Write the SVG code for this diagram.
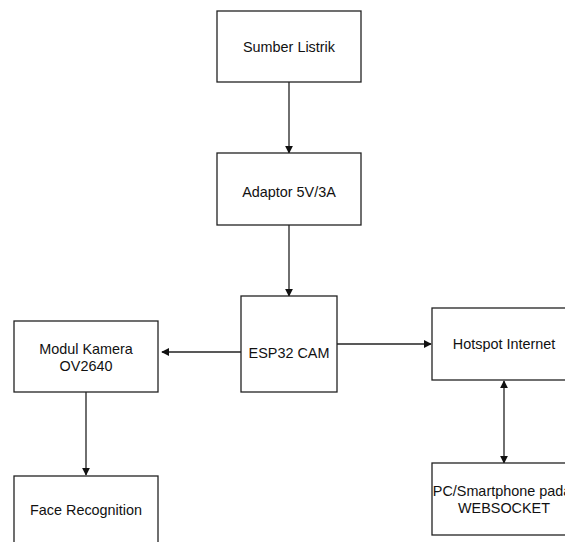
<svg xmlns="http://www.w3.org/2000/svg" width="565" height="542" viewBox="0 0 565 542">
<style>
.box{fill:#fff;stroke:#222;stroke-width:1.3}
.t{font-family:"Liberation Sans",Arial,sans-serif;font-size:14.4px;fill:#111;text-anchor:middle}
.c{fill:none;stroke:#222;stroke-width:1.3}
</style>
<defs>
<marker id="ah" viewBox="0 0 10 10" refX="9" refY="5" markerWidth="8" markerHeight="8" markerUnits="userSpaceOnUse" orient="auto-start-reverse">
<path d="M0,0 L10,5 L0,10 z" fill="#111"/>
</marker>
</defs>
<rect width="565" height="542" fill="#fff"/>
<g id="connectors">
<line class="c" x1="289" y1="82" x2="289" y2="153" marker-end="url(#ah)"/>
<line class="c" x1="289" y1="225" x2="289" y2="296" marker-end="url(#ah)"/>
<line class="c" x1="241" y1="352" x2="162" y2="352" marker-end="url(#ah)"/>
<line class="c" x1="337" y1="344" x2="431" y2="344" marker-end="url(#ah)"/>
<line class="c" x1="86" y1="392" x2="86" y2="475" marker-end="url(#ah)"/>
<line class="c" x1="504" y1="381" x2="504" y2="463" marker-start="url(#ah)" marker-end="url(#ah)"/>
</g>
<g id="sumber">
<rect class="box" x="217" y="11" width="144" height="71"/>
<text class="t" x="289" y="52">Sumber Listrik</text>
</g>
<g id="adaptor">
<rect class="box" x="217" y="153" width="144" height="72"/>
<text class="t" x="289" y="197">Adaptor 5V/3A</text>
</g>
<g id="esp32">
<rect class="box" x="241" y="296" width="96" height="96"/>
<text class="t" x="289" y="358">ESP32 CAM</text>
</g>
<g id="modul">
<rect class="box" x="14" y="321" width="144" height="71"/>
<text class="t" x="86" y="354">Modul Kamera</text>
<text class="t" x="86" y="371">OV2640</text>
</g>
<g id="hotspot">
<rect class="box" x="432" y="308" width="144" height="72"/>
<text class="t" x="504" y="349">Hotspot Internet</text>
</g>
<g id="face">
<rect class="box" x="14" y="476" width="144" height="72"/>
<text class="t" x="86" y="515">Face Recognition</text>
</g>
<g id="pc">
<rect class="box" x="432" y="463" width="144" height="72"/>
<text class="t" x="502" y="496">PC/Smartphone pada</text>
<text class="t" x="504" y="513">WEBSOCKET</text>
</g>
</svg>
